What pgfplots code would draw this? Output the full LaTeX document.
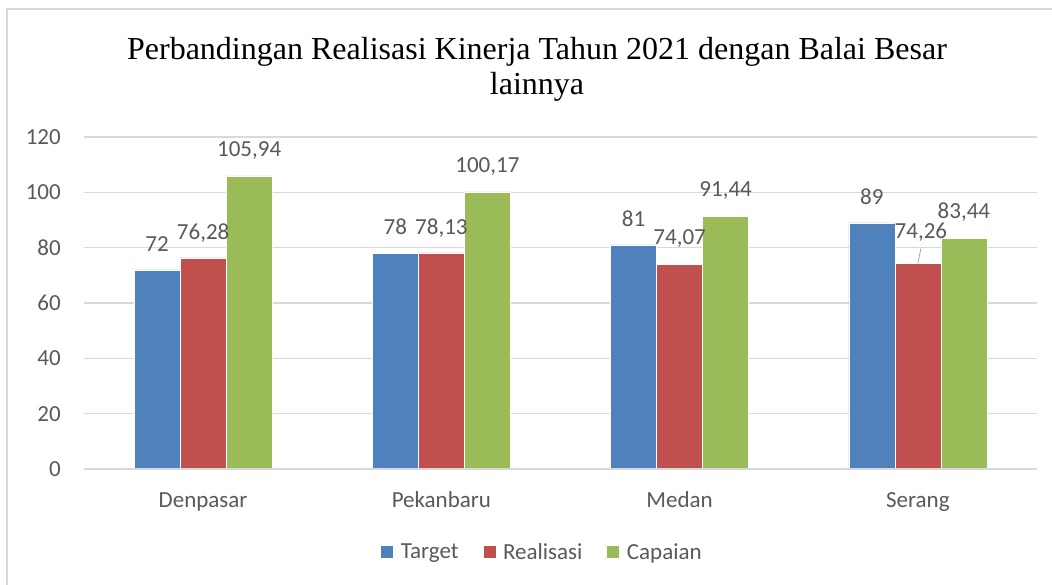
\documentclass[border=0pt]{standalone}
\usepackage{pgfplots}
\pgfplotsset{compat=1.18}
\usepackage{pgfplotstable}
\usepackage{fontspec}
\setmainfont{Liberation Serif}
\newfontfamily\calfont{Carlito}
\definecolor{cblue}{HTML}{4F81BD}
\definecolor{cred}{HTML}{C0504D}
\definecolor{cgreen}{HTML}{9BBB59}
\definecolor{txt}{HTML}{595959}
\definecolor{gridc}{HTML}{D9D9D9}

\pgfplotstableread{
x y off xoff
0 72 26 0
1 78 26 0
2 81 26 0
3 89 26.5 0
}\target
\pgfplotstableread{
x y off xoff
0 76.28 25 0
1 78.13 25 0
2 74.07 26 0
3 74.26 31.5 3
}\realisasi
\pgfplotstableread{
x y off xoff
0 105.94 25 0
1 100.17 25 0
2 91.44 26 0
3 83.44 26 0
}\capaian

\begin{document}
\begin{tikzpicture}
\useasboundingbox (0,0) rectangle (1052pt,584pt);
\draw[gridc, line width=1.5pt] (7pt,-20pt) rectangle (1080pt,575pt);
\node[anchor=base, font=\fontsize{32}{36}\selectfont] at (537pt,524pt) {Perbandingan Realisasi Kinerja Tahun 2021 dengan Balai Besar};
\node[anchor=base, font=\fontsize{32}{36}\selectfont] at (537pt,489pt) {lainnya};
\begin{axis}[
  at={(84pt,115pt)}, anchor=south west,
  scale only axis, width=953pt, height=332pt,
  xmin=-0.5, xmax=3.5, ymin=0, ymax=120,
  ytick={0,20,...,120},
  xtick={0,1,2,3},
  xticklabels={Denpasar,Pekanbaru,Medan,Serang},
  axis line style={draw=none},
  axis x line*=bottom,
  axis y line*=left,
  major tick length=0pt,
  ymajorgrids, grid style={gridc, line width=1.3pt},
  tick label style={font=\calfont\fontsize{23}{27}\selectfont, text=txt},
  yticklabel style={anchor=east, inner sep=0pt, xshift=-23pt},
  xticklabel style={anchor=base, inner sep=0pt, yshift=-38pt},
  ybar=0pt, bar width=46pt,
  /pgf/number format/.cd, use comma, 1000 sep={}, assume math mode=true,
  /pgfplots/.cd,
  nodes near coords,
  visualization depends on={\thisrow{off} \as \off},
  visualization depends on={\thisrow{xoff} \as \xoff},
  every node near coord/.append style={anchor=center, yshift=\off pt, xshift=\xoff pt, inner sep=0pt, font=\calfont\fontsize{23}{27}\selectfont, text=txt},
  legend style={at={(0.4795,-0.25)}, anchor=center, draw=none, fill=none, inner sep=0pt,
    legend columns=3, font=\calfont\fontsize{23}{27}\selectfont, text=txt,
    nodes={inner sep=0pt, anchor=west},
    /tikz/every odd column/.append style={column sep=7pt},
    /tikz/every even column/.append style={column sep=24pt}},
  legend image code/.code={\fill[#1] (0pt,-6.5pt) rectangle (13pt,6.5pt);},
  clip=false,
]
\addplot[fill=cblue, draw=white, line width=0.5pt] table[x=x,y=y] {\target};
\addplot[fill=cred, draw=white, line width=0.5pt] table[x=x,y=y] {\realisasi};
\addplot[fill=cgreen, draw=white, line width=0.5pt] table[x=x,y=y] {\capaian};
\legend{Target,Realisasi,Capaian}
\draw[color=gray!70, line width=0.8pt] (axis cs:3,74.26) -- ++(3pt,15pt);
\draw[gridc, line width=1.3pt] (axis cs:-0.5,0) -- (axis cs:3.5,0);
\end{axis}
\end{tikzpicture}
\end{document}
